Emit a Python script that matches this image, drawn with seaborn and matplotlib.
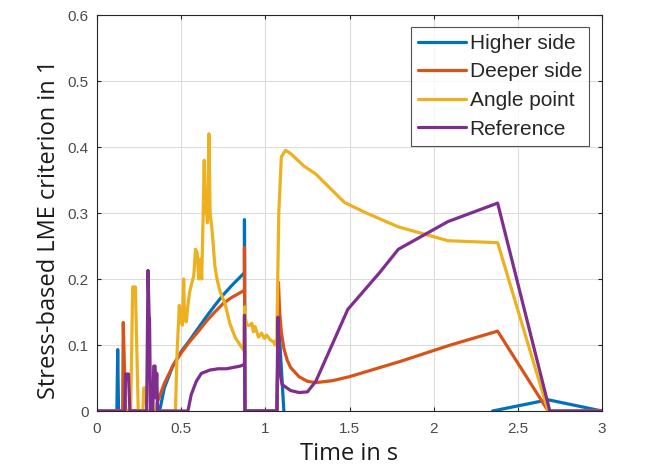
import numpy as np
import pandas as pd
import matplotlib
matplotlib.use("Agg")
import matplotlib.pyplot as plt
import seaborn as sns

# ---- data ----
series_names = ["Higher side", "Deeper side", "Angle point", "Reference"]
series_colors = ["#0072BD", "#D95319", "#EDB120", "#7E2F8E"]

# NaN marks a gap (no value) in a series
higher_t = [0, 0.118, 0.123, 0.128, 0.372, 0.40, 0.45, 0.50, 0.55, 0.60, 0.65, 0.70,
            0.75, 0.80, 0.87, 0.876, 0.876, 0.879, 1.07, 1.078, 1.11, 1.12, 2.35, 2.68, 3.0]
higher_v = [0, 0, 0.093, 0, 0, 0.035, 0.068, 0.09, 0.107, 0.125, 0.143, 0.16,
            0.176, 0.19, 0.208, 0.21, 0.29, 0, 0, 0.14, 0, np.nan, 0, 0.017, 0]

deeper_t = [0, 0.152, 0.156, 0.17, 0.355, 0.357, 0.40, 0.45, 0.50, 0.55, 0.60, 0.65,
            0.70, 0.75, 0.80, 0.87, 0.876, 0.876, 0.879, 1.07, 1.078, 1.085, 1.095,
            1.11, 1.13, 1.15, 1.2, 1.25, 1.3, 1.4, 1.5, 1.8, 2.1, 2.38, 2.68, 3.0]
deeper_v = [0, 0, 0.134, 0, 0, 0.012, 0.042, 0.068, 0.088, 0.105, 0.12, 0.136,
            0.15, 0.163, 0.172, 0.182, 0.184, 0.248, 0, 0, 0.195, 0.15, 0.12,
            0.095, 0.077, 0.066, 0.052, 0.045, 0.043, 0.046, 0.052, 0.075, 0.1, 0.121, 0, 0]

angle_t = [0, 0.2, 0.212, 0.228, 0.245, 0.272, 0.278, 0.29, 0.295, 0.466, 0.476,
           0.489, 0.495, 0.50, 0.507, 0.515, 0.52, 0.53, 0.54, 0.55, 0.564, 0.575,
           0.585, 0.595, 0.604, 0.612, 0.622, 0.63, 0.637, 0.643, 0.65, 0.656,
           0.665, 0.672, 0.685, 0.70, 0.713, 0.73, 0.76, 0.79, 0.82, 0.85, 0.872,
           0.877, 0.882, 0.89, 0.909, 0.92, 0.929, 0.939, 0.959, 0.978, 0.995,
           1.008, 1.028, 1.048, 1.058, 1.068, 1.08, 1.095, 1.12, 1.15, 1.23, 1.30,
           1.47, 1.6, 1.79, 2.085, 2.38, 2.68, 3.0]
angle_v = [0, 0, 0.188, 0.188, 0, 0, 0.035, 0.035, 0, 0, 0.09,
           0.16, 0.135, 0.155, 0.13, 0.2, 0.14, 0.135, 0.16, 0.18, 0.195, 0.205,
           0.245, 0.24, 0.2, 0.23, 0.2, 0.29, 0.38, 0.3, 0.31, 0.285,
           0.42, 0.3, 0.27, 0.22, 0.2, 0.182, 0.163, 0.132, 0.112, 0.1, 0.092,
           0.158, 0.14, 0.13, 0.13, 0.133, 0.12, 0.128, 0.112, 0.118, 0.11,
           0.115, 0.108, 0.105, 0.1, 0.11, 0.3, 0.385, 0.395, 0.39, 0.371, 0.359,
           0.316, 0.3, 0.279, 0.258, 0.255, 0, 0]

ref_t = [0, 0.165, 0.17, 0.187, 0.195, 0.295, 0.303, 0.31, 0.312, 0.318, 0.332,
         0.337, 0.345, 0.35, 0.355, 0.36, 0.54, 0.56, 0.59, 0.62, 0.67, 0.72, 0.77,
         0.81, 0.85, 0.872, 0.876, 0.876, 0.879, 1.068, 1.075, 1.085, 1.1, 1.15,
         1.2, 1.25, 1.3, 1.49, 1.68, 1.79, 2.085, 2.38, 2.69, 3.0]
ref_v = [0, 0, 0.056, 0.056, 0, 0, 0.213, 0.14, 0.14, 0, 0,
         0.068, 0.068, 0.02, 0.057, 0, 0, 0.025, 0.045, 0.057, 0.062, 0.064, 0.064,
         0.066, 0.068, 0.07, 0.072, 0.145, 0, 0, 0.142, 0.06, 0.04, 0.031,
         0.028, 0.029, 0.045, 0.154, 0.21, 0.245, 0.287, 0.315, 0, 0]

x_ticks = [0, 0.5, 1, 1.5, 2, 2.5, 3]
x_tick_labels = ["0", "0.5", "1", "1.5", "2", "2.5", "3"]
y_ticks = [0, 0.1, 0.2, 0.3, 0.4, 0.5, 0.6]
y_tick_labels = ["0", "0.1", "0.2", "0.3", "0.4", "0.5", "0.6"]

# ---- build long-form table ----
frames = []
for name, t, v in zip(series_names,
                      [higher_t, deeper_t, angle_t, ref_t],
                      [higher_v, deeper_v, angle_v, ref_v]):
    d = pd.DataFrame({"t": t, "v": v, "series": name})
    gap = d["v"].isna()
    d["segment"] = name + "_" + gap.cumsum().astype(str)
    d = d[~gap]
    frames.append(d)
df = pd.concat(frames, ignore_index=True)

sns.set_theme(style="white")
plt.rcParams["font.family"] = ["Liberation Sans", "DejaVu Sans"]

fig = plt.figure(figsize=(6.52, 4.65), dpi=100)
ax = fig.add_axes([97 / 652, 1 - 411 / 465, 505 / 652, 396 / 465])

sns.lineplot(data=df, x="t", y="v", hue="series", hue_order=series_names,
             palette=dict(zip(series_names, series_colors)),
             estimator=None, sort=False, units="segment", linewidth=2.3,
             ax=ax, legend=True)

ax.set_xlim(0, 3)
ax.set_ylim(0, 0.6)
ax.set_xticks(x_ticks)
ax.set_xticklabels(x_tick_labels)
ax.set_yticks(y_ticks)
ax.set_yticklabels(y_tick_labels)
ax.grid(True, color="#dcdcdc", linewidth=0.8)
ax.set_axisbelow(True)
for s in ax.spines.values():
    s.set_visible(True)
    s.set_color("#262626")
    s.set_linewidth(0.8)
ax.tick_params(direction="in", length=3, width=0.8, colors="#262626",
               labelcolor="#4a4a4a", labelsize=11, top=True, right=True,
               bottom=True, left=True)
ax.tick_params(axis="x", pad=8)
ax.tick_params(axis="y", pad=6)

ax.set_xlabel("Time in s", fontsize=17, family=["Open Sans", "DejaVu Sans"],
              color="#1a1a1a", labelpad=4)
ax.set_ylabel("Stress-based LME criterion in 1", fontsize=17,
              family=["Open Sans", "DejaVu Sans"], color="#1a1a1a", labelpad=5)
ax.yaxis.label.set_y(0.46)

handles, labels = ax.get_legend_handles_labels()
leg = ax.legend(handles, labels, loc="upper right",
                bbox_to_anchor=((589 - 97) / 505, (411 - 27) / 396),
                borderaxespad=0, fontsize=15, frameon=True, fancybox=False,
                edgecolor="#262626", handlelength=2.3, handletextpad=0.2,
                labelspacing=0.46, borderpad=0.33)
leg.get_frame().set_linewidth(0.8)
for h in leg.get_lines():
    h.set_linewidth(2.3)

fig.savefig("out.png", dpi=100)
